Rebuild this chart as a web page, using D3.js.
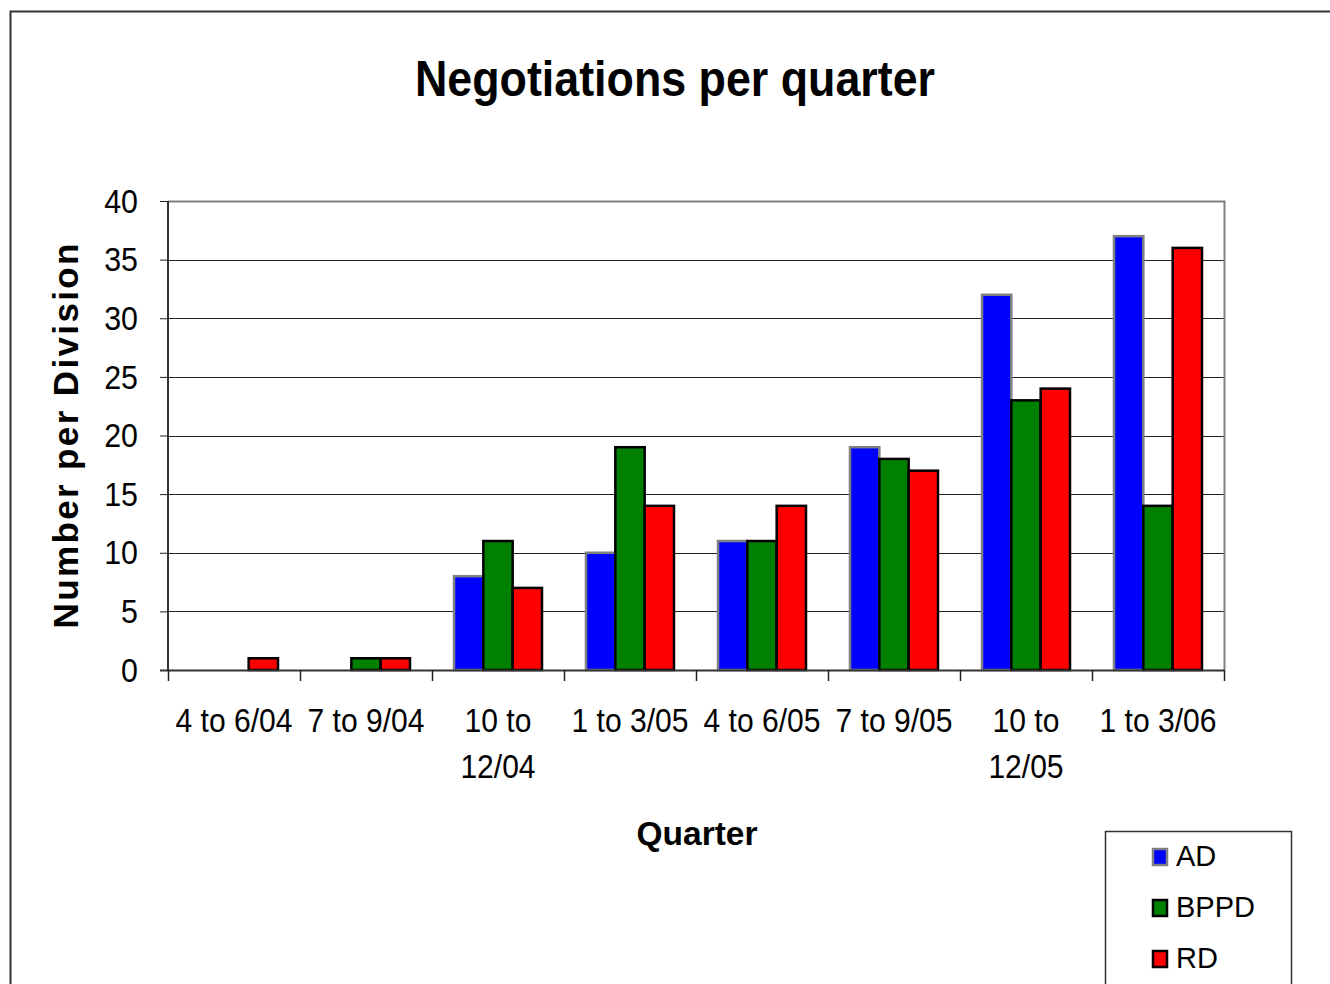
<!DOCTYPE html>
<html>
<head>
<meta charset="utf-8">
<script src="https://cdn.jsdelivr.net/npm/d3@7"></script>
<style>
  html, body { margin: 0; padding: 0; background: #fff; }
  svg { display: block; font-family: "Liberation Sans", Arial, sans-serif; }
</style>
</head>
<body>
<svg id="chart" width="1330" height="984"></svg>
<script>
const categories = ["4 to 6/04", "7 to 9/04", "10 to 12/04", "1 to 3/05", "4 to 6/05", "7 to 9/05", "10 to 12/05", "1 to 3/06"];
const seriesNames = ["AD", "BPPD", "RD"];
const AD   = [0, 0, 8, 10, 11, 19, 32, 37];
const BPPD = [0, 1, 11, 19, 11, 18, 23, 14];
const RD   = [1, 1, 7, 14, 14, 17, 24, 36];
const yTicks = [0, 5, 10, 15, 20, 25, 30, 35, 40];
const fills = ["#0000ff", "#008000", "#ff0000"];
const strokes = ["#808080", "#000000", "#000000"];
const seriesValues = [AD, BPPD, RD];

const svg = d3.select("#chart");

// outer frame
svg.append("rect").attr("x", 10.5).attr("y", 11.5).attr("width", 1340).attr("height", 1000)
  .attr("fill", "none").attr("stroke", "#333").attr("stroke-width", 2);

const pLeft = 168, pRight = 1224, pTop = 201, pBottom = 670;
const x = d3.scaleBand().domain(categories).range([pLeft, pRight]).padding(0);
const bw = x.bandwidth();
const barW = bw / 4.5;
const x1 = d3.scaleBand().domain(seriesNames).range([barW * 0.75, barW * 0.75 + barW * 3]).padding(0);
const y = d3.scaleLinear().domain([0, 40]).range([pBottom, pTop]);

// gridlines
svg.append("g").selectAll("line").data(yTicks.filter(d => d > 0 && d < 40)).join("line")
  .attr("x1", pLeft).attr("x2", pRight)
  .attr("y1", d => Math.round(y(d)) + 0.5).attr("y2", d => Math.round(y(d)) + 0.5)
  .attr("stroke", "#222").attr("stroke-width", 1);

// plot border top/right gray
svg.append("path")
  .attr("d", `M${pLeft},${pTop + 0.5}H${pRight + 0.5}V${pBottom}`)
  .attr("fill", "none").attr("stroke", "#808080").attr("stroke-width", 2);

// bars
const groups = svg.append("g").selectAll("g").data(categories).join("g")
  .attr("transform", d => `translate(${x(d)},0)`);
groups.selectAll("rect")
  .data((c, i) => seriesNames.map((s, k) => ({ s, k, v: seriesValues[k][i] })).filter(d => d.v > 0))
  .join("rect")
  .attr("x", d => x1(d.s))
  .attr("width", x1.bandwidth())
  .attr("y", d => y(d.v))
  .attr("height", d => y(0) - y(d.v))
  .attr("fill", d => fills[d.k])
  .attr("stroke", d => strokes[d.k])
  .attr("stroke-width", 2.5);

// y axis
const yAxis = svg.append("g").attr("transform", `translate(${pLeft},0)`)
  .call(d3.axisLeft(y).tickValues(yTicks).tickSize(8).tickPadding(22).tickFormat(d3.format("d")));
yAxis.select(".domain").attr("stroke", "#333").attr("stroke-width", 2).attr("d", `M0,${pTop}V${pBottom}`);
yAxis.selectAll(".tick line").attr("stroke", "#222");
yAxis.selectAll(".tick text").attr("font-size", 33).attr("fill", "#000")
  .attr("font-family", "'Liberation Sans', Arial, sans-serif")
  .attr("dy", "0.34em")
  .each(function() {
    const w = this.getComputedTextLength();
    d3.select(this).attr("textLength", w * 0.92).attr("lengthAdjust", "spacingAndGlyphs");
  });

// x axis
const xAxis = svg.append("g").attr("transform", `translate(0,${pBottom})`);
xAxis.append("line").attr("x1", pLeft - 8).attr("x2", pRight).attr("y1", 0.5).attr("y2", 0.5)
  .attr("stroke", "#333").attr("stroke-width", 2);
const boundaries = categories.map(c => x(c)).concat([pRight]);
xAxis.selectAll("line.tk").data(boundaries).join("line").attr("class", "tk")
  .attr("x1", d => Math.round(d) + 0.5).attr("x2", d => Math.round(d) + 0.5)
  .attr("y1", 0).attr("y2", 11).attr("stroke", "#222").attr("stroke-width", 1.5);

const labels = xAxis.selectAll("text.lbl").data(categories).join("text").attr("class", "lbl")
  .attr("x", d => x(d) + bw / 2)
  .attr("y", 62)
  .attr("text-anchor", "middle")
  .attr("font-size", 33)
  .attr("fill", "#000");
labels.each(function(d) {
  const t = d3.select(this);
  t.text(d);
  const full = this.getComputedTextLength();
  if (full * 0.91 > bw - 2) {
    const words = d.split(" ");
    const last = words.pop();
    t.text(null);
    const a = t.append("tspan").attr("x", x(d) + bw / 2).attr("dy", 0).text(words.join(" "));
    const b = t.append("tspan").attr("x", x(d) + bw / 2).attr("dy", 46).text(last);
    [a, b].forEach(s => {
      const w = s.node().getComputedTextLength();
      s.attr("textLength", w * 0.91).attr("lengthAdjust", "spacingAndGlyphs");
    });
  } else {
    t.attr("textLength", full * 0.91).attr("lengthAdjust", "spacingAndGlyphs");
  }
});

// titles
svg.append("text").attr("x", 675).attr("y", 96).attr("text-anchor", "middle")
  .attr("font-size", 50).attr("font-weight", "bold").attr("textLength", 520)
  .attr("lengthAdjust", "spacingAndGlyphs").text("Negotiations per quarter");

svg.append("text").attr("x", 697).attr("y", 845).attr("text-anchor", "middle")
  .attr("font-size", 33).attr("font-weight", "bold").attr("textLength", 121)
  .attr("lengthAdjust", "spacingAndGlyphs").text("Quarter");

svg.append("text").attr("transform", "translate(78,436) rotate(-90)")
  .attr("text-anchor", "middle").attr("font-size", 35).attr("font-weight", "bold")
  .attr("textLength", 385).attr("lengthAdjust", "spacing").text("Number per Division");

// legend
const lg = svg.append("g");
lg.append("rect").attr("x", 1105.5).attr("y", 831.5).attr("width", 186).attr("height", 200)
  .attr("fill", "#fff").attr("stroke", "#333").attr("stroke-width", 1.5);
const ly = d3.scalePoint().domain(seriesNames).range([856, 958]);
const items = lg.selectAll("g").data(seriesNames).join("g")
  .attr("transform", d => `translate(0,${ly(d)})`);
items.append("rect").attr("x", 1153).attr("y", -7).attr("width", 14).attr("height", 16)
  .attr("fill", (d, i) => fills[i]).attr("stroke", (d, i) => strokes[i]).attr("stroke-width", 2.5);
items.append("text").attr("x", 1176).attr("y", 0).attr("dy", "0.35em")
  .attr("font-size", 29).attr("fill", "#000").text(d => d);
</script>
</body>
</html>
